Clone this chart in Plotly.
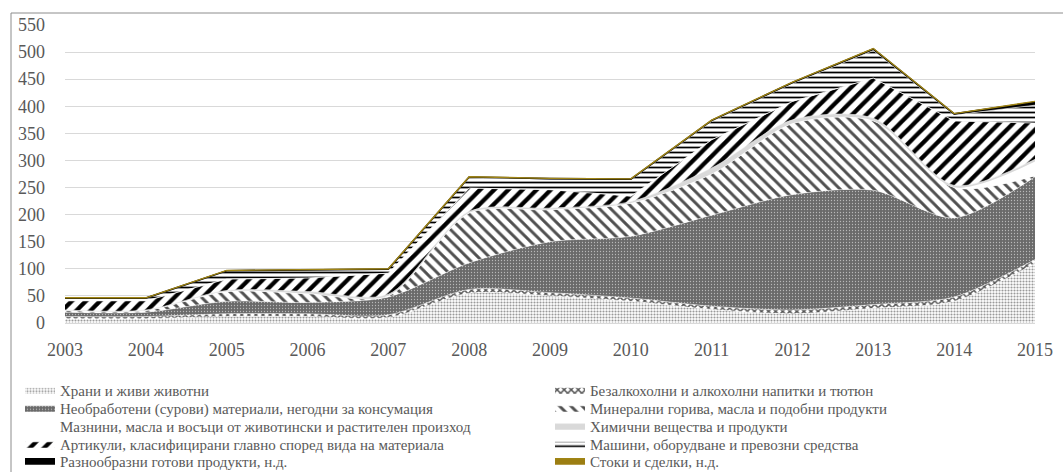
import plotly.graph_objects as go

years = [2003, 2004, 2005, 2006, 2007, 2008, 2009, 2010, 2011, 2012, 2013, 2014, 2015]

food = [8, 8, 12, 12, 10, 55, 50, 40, 25, 17, 27, 40, 110]
bev = [4, 4, 5, 5, 5, 7, 6, 6, 6, 7, 7, 8, 7]
raw = [8, 8, 23, 21, 33, 49, 94, 114, 168, 213, 211, 146, 153]
mineral = [3, 3, 18, 16, 2, 92, 59, 61, 76, 131, 128, 56, 2]
fats = [0.5, 0.5, 0.5, 0.5, 0.5, 0.5, 0.5, 0.5, 0.5, 0.5, 0.5, 0.5, 26]
chem = [0.5, 0.5, 1.5, 3.5, 2.5, 2.5, 2.5, 2.5, 10.5, 6.5, 4.5, 3.5, 4]
articles = [17, 17, 21, 25, 39, 43, 34, 10, 52, 34, 74, 119, 67]
machines = [4, 4, 15, 15, 7, 19, 19, 30, 34, 33, 51, 11, 33]
misc = [1, 1, 0.5, 0.5, 0.5, 1.5, 1.5, 1.5, 2, 2, 3, 2, 6]
goods = [0.5, 0.5, 0.5, 0.5, 0.5, 0.5, 0.5, 0.5, 0.5, 0.5, 0.5, 0.5, 1]

names = [
    "Храни и живи животни",
    "Безалкохолни и алкохолни напитки и тютюн",
    "Необработени (сурови) материали, негодни за консумация",
    "Минерални горива, масла и подобни продукти",
    "Мазнини, масла и восъци от животински и растителен произход",
    "Химични вещества и продукти",
    "Артикули, класифицирани главно според вида на материала",
    "Машини, оборудване и превозни средства",
    "Разнообразни готови продукти, н.д.",
    "Стоки и сделки, н.д.",
]
series = [food, bev, raw, mineral, fats, chem, articles, machines, misc, goods]

FONT = "Liberation Serif"
TXT = "#595959"

styles = [
    dict(shape="spline", pattern=dict(shape=".", fgcolor="#9a9a9a", bgcolor="#ffffff", size=3, solidity=0.4, fillmode="replace"), line=dict(width=0.6, color="white")),
    dict(shape="spline", pattern=dict(shape="x", fgcolor="#555555", bgcolor="#ffffff", size=5, solidity=0.5, fillmode="replace"), line=dict(width=0.5, color="white")),
    dict(shape="spline", pattern=dict(shape=".", fgcolor="#b8b8b8", bgcolor="#6a6a6a", size=3, solidity=0.15, fillmode="replace"), line=dict(width=0.5, color="white")),
    dict(shape="spline", pattern=dict(shape="\\", fgcolor="#505050", bgcolor="#ffffff", size=8, solidity=0.36, fillmode="replace"), line=dict(width=0.8, color="white")),
    dict(shape="spline", fillcolor="#ffffff", line=dict(width=0, color="white")),
    dict(shape="spline", fillcolor="#d9d9d9", line=dict(width=0.6, color="#e6e6e6")),
    dict(shape="linear", pattern=dict(shape="/", fgcolor="#000000", bgcolor="#ffffff", size=10, solidity=0.42, fillmode="replace"), line=dict(width=0.8, color="white")),
    dict(shape="linear", pattern=dict(shape="-", fgcolor="#000000", bgcolor="#ffffff", size=5, solidity=0.35, fillmode="replace"), line=dict(width=0.6, color="white")),
    dict(shape="linear", fillcolor="#000000", line=dict(width=1.6, color="#000000")),
    dict(shape="linear", fillcolor="#9c7e12", line=dict(width=1.4, color="#a08515")),
]

L, R, T, B = 65, 28, 25, 149
W, H = 1063, 472
pw = W - L - R
ph = H - T - B


def px_x(px):
    return (px - L) / pw


def px_y(py):
    return (H - B - py) / ph


row_centers = [390, 408, 426, 444, 461]
col_x = [20, 550]

legend_ids = ["legend"] + ["legend%d" % i for i in range(2, 11)]

fig = go.Figure()
for i, (name, vals, st) in enumerate(zip(names, series, styles)):
    kw = dict(
        x=years, y=vals, name=name, mode="lines", stackgroup="one",
        line=dict(shape=st["shape"], smoothing=0.8, width=st["line"]["width"], color=st["line"]["color"]),
        legend=legend_ids[i], hoverinfo="skip", showlegend=True,
    )
    if "pattern" in st:
        kw["fillpattern"] = st["pattern"]
        kw["fillcolor"] = st["pattern"]["bgcolor"]
    else:
        kw["fillcolor"] = st["fillcolor"]
    fig.add_trace(go.Scatter(**kw))

legend_layout = {}
for i, lid in enumerate(legend_ids):
    legend_layout[lid] = dict(
        orientation="v", font=dict(family=FONT, size=15, color=TXT),
        bgcolor="rgba(0,0,0,0)", borderwidth=0, itemwidth=30, visible=True,
        xanchor="left", yanchor="middle",
        x=px_x(col_x[i % 2]), y=px_y(row_centers[i // 2]),
    )

fig.update_layout(
    width=W, height=H, showlegend=True,
    margin=dict(l=L, r=R, t=T, b=B, autoexpand=False),
    paper_bgcolor="white", plot_bgcolor="white",
    font=dict(family=FONT, color=TXT),
    hovermode=False,
    xaxis=dict(
        range=[2003, 2015], tickmode="array", tickvals=years,
        ticktext=[str(y) for y in years], showgrid=False, zeroline=False,
        showline=False, ticks="", ticklabelstandoff=14,
        tickfont=dict(family=FONT, size=18, color=TXT),
    ),
    yaxis=dict(
        range=[0, 550], dtick=50, tick0=0, showgrid=True, gridcolor="#d9d9d9",
        gridwidth=1, zeroline=True, zerolinecolor="#d9d9d9", zerolinewidth=1,
        showline=False, ticks="", ticklabelstandoff=19,
        tickfont=dict(family=FONT, size=18, color=TXT),
    ),
    shapes=[
        dict(type="rect", xref="paper", yref="paper",
             x0=px_x(11), x1=px_x(1075), y0=px_y(490), y1=px_y(13),
             line=dict(color="#8c8c8c", width=1), fillcolor="rgba(0,0,0,0)", layer="below"),
    ],
    **legend_layout,
)

fig.write_html(
    "out.html",
    config={"displayModeBar": False},
    post_script="document.body.style.margin='0';document.body.style.overflow='hidden';",
)
